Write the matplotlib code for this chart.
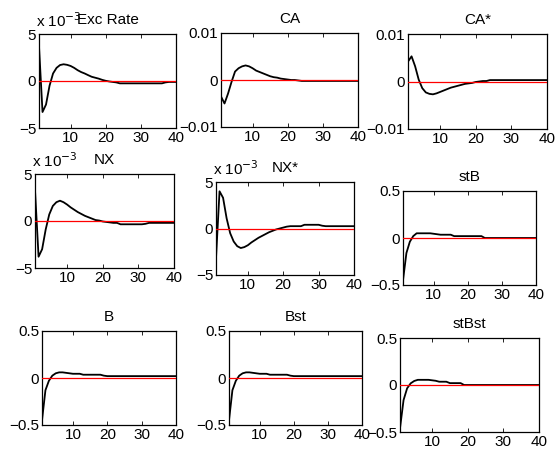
import matplotlib
matplotlib.use("Agg")
import matplotlib.pyplot as plt
from matplotlib.ticker import FuncFormatter
import numpy as np

plt.rcParams["font.family"] = ["Liberation Sans", "DejaVu Sans"]
plt.rcParams["font.size"] = 11

periods = np.arange(1, 41)

titles = ["Exc Rate", "CA", "CA*", "NX", "NX*", "stB", "B", "Bst", "stBst"]

exc_rate = [3.7e-3, -3.3e-3, -2.5e-3, -0.5e-3, 0.8e-3, 1.4e-3, 1.7e-3, 1.78e-3, 1.72e-3, 1.6e-3,
            1.4e-3, 1.15e-3, 0.95e-3, 0.8e-3, 0.62e-3, 0.45e-3, 0.35e-3, 0.25e-3, 0.12e-3, 0.02e-3,
            -0.05e-3, -0.1e-3, -0.15e-3, -0.25e-3, -0.25e-3, -0.25e-3, -0.25e-3, -0.25e-3, -0.25e-3, -0.25e-3,
            -0.25e-3, -0.25e-3, -0.25e-3, -0.25e-3, -0.25e-3, -0.25e-3, -0.15e-3, -0.1e-3, -0.1e-3, -0.1e-3]

ca = [-0.0035, -0.0050, -0.0029, -0.0004, 0.0018, 0.0025, 0.0029, 0.0031, 0.0029, 0.0025,
      0.0020, 0.0017, 0.0014, 0.0011, 0.0008, 0.0006, 0.0005, 0.0003, 0.0002, 0.0001,
      0.0, 0.0, -0.0001, -0.0002, -0.0002, -0.0002, -0.0002, -0.0002, -0.0002, -0.0002,
      -0.0002, -0.0002, -0.0002, -0.0002, -0.0002, -0.0002, -0.0002, -0.0002, -0.0002, -0.0002]

ca_star = [0.0042, 0.0053, 0.0032, 0.0004, -0.0014, -0.0023, -0.0026, -0.0027, -0.0025, -0.0022,
           -0.0019, -0.0016, -0.0013, -0.0011, -0.0009, -0.0007, -0.0005, -0.0004, -0.0003, -0.0001,
           0.0, 0.0001, 0.0001, 0.0003, 0.0003, 0.0003, 0.0003, 0.0003, 0.0003, 0.0003,
           0.0003, 0.0003, 0.0003, 0.0003, 0.0003, 0.0003, 0.0003, 0.0003, 0.0003, 0.0003]

nx = [3.3e-3, -3.8e-3, -3.0e-3, -0.9e-3, 0.7e-3, 1.6e-3, 2.0e-3, 2.16e-3, 2.0e-3, 1.75e-3,
      1.45e-3, 1.2e-3, 0.95e-3, 0.75e-3, 0.55e-3, 0.4e-3, 0.25e-3, 0.1e-3, 0.05e-3, -0.05e-3,
      -0.1e-3, -0.15e-3, -0.2e-3, -0.2e-3, -0.35e-3, -0.35e-3, -0.35e-3, -0.35e-3, -0.35e-3, -0.35e-3,
      -0.35e-3, -0.3e-3, -0.2e-3, -0.2e-3, -0.2e-3, -0.2e-3, -0.2e-3, -0.2e-3, -0.2e-3, -0.2e-3]

nx_star = [-3.2e-3, 4.0e-3, 3.3e-3, 1.1e-3, -0.5e-3, -1.4e-3, -1.9e-3, -2.1e-3, -2.0e-3, -1.8e-3,
           -1.5e-3, -1.25e-3, -1.0e-3, -0.8e-3, -0.6e-3, -0.4e-3, -0.25e-3, -0.1e-3, 0.0, 0.1e-3,
           0.2e-3, 0.25e-3, 0.25e-3, 0.25e-3, 0.25e-3, 0.4e-3, 0.4e-3, 0.4e-3, 0.4e-3, 0.4e-3,
           0.3e-3, 0.25e-3, 0.25e-3, 0.25e-3, 0.25e-3, 0.25e-3, 0.25e-3, 0.25e-3, 0.25e-3, 0.25e-3]

st_b = [-0.45, -0.16, -0.04, 0.02, 0.05, 0.05, 0.05, 0.05, 0.05, 0.045,
        0.04, 0.035, 0.035, 0.035, 0.035, 0.02, 0.02, 0.02, 0.02, 0.02,
        0.02, 0.02, 0.02, 0.02, 0.0, 0.0, 0.0, 0.0, 0.0, 0.0,
        0.0, 0.0, 0.0, 0.0, 0.0, 0.0, 0.0, 0.0, 0.0, 0.0]

b = [-0.45, -0.13, -0.03, 0.025, 0.05, 0.06, 0.06, 0.055, 0.05, 0.045,
     0.045, 0.045, 0.035, 0.035, 0.035, 0.035, 0.035, 0.035, 0.025, 0.02,
     0.02, 0.02, 0.02, 0.02, 0.02, 0.02, 0.02, 0.02, 0.02, 0.02,
     0.02, 0.02, 0.02, 0.02, 0.02, 0.02, 0.02, 0.02, 0.02, 0.02]

bst = [-0.45, -0.13, -0.03, 0.025, 0.05, 0.06, 0.06, 0.055, 0.05, 0.045,
       0.045, 0.045, 0.035, 0.035, 0.035, 0.035, 0.035, 0.035, 0.025, 0.02,
       0.02, 0.02, 0.02, 0.02, 0.02, 0.02, 0.02, 0.02, 0.02, 0.02,
       0.02, 0.02, 0.02, 0.02, 0.02, 0.02, 0.02, 0.02, 0.02, 0.02]

st_bst = [-0.46, -0.16, -0.035, 0.018, 0.043, 0.055, 0.055, 0.055, 0.055, 0.05,
          0.045, 0.035, 0.035, 0.035, 0.02, 0.02, 0.02, 0.02, 0.0, 0.0,
          0.0, 0.0, 0.0, 0.0, 0.0, 0.0, 0.0, 0.0, 0.0, 0.0,
          0.0, 0.0, 0.0, 0.0, 0.0, 0.0, 0.0, 0.0, 0.0, 0.0]

series = [exc_rate, ca, ca_star, nx, nx_star, st_b, b, bst, st_bst]

# y ranges and whether the axis shows an "x 10^-3" multiplier
y_limits = [0.005, 0.01, 0.01, 0.005, 0.005, 0.5, 0.5, 0.5, 0.5]
scaled = [True, False, False, True, True, False, False, False, False]

# axes boxes in pixels: left, top, right, bottom
W, H = 558, 459
boxes = [(39, 34, 176, 128), (221, 33, 358, 127), (408, 34, 547, 129),
         (35, 174, 174, 268), (216, 182, 354, 275), (403, 191, 536, 285),
         (42, 331, 176, 425), (229, 331, 362, 425), (400, 338, 539, 432)]

fig = plt.figure(figsize=(W / 100, H / 100), dpi=100)


def minus(s):
    return s.replace("-", "\u2212")


for title, vals, lim, sc, (l, t, r, btm) in zip(titles, series, y_limits, scaled, boxes):
    ax = fig.add_axes([l / W, 1 - btm / H, (r - l) / W, (btm - t) / H])
    ax.plot(periods, vals, color="black", lw=1.3, zorder=2)
    ax.axhline(0, color="#ff0000", lw=0.9, zorder=3)
    ax.set_xlim(1, 40)
    ax.set_ylim(-lim, lim)
    ax.set_xticks([10, 20, 30, 40])
    ax.set_yticks([-lim, 0, lim])
    if sc:
        ax.yaxis.set_major_formatter(FuncFormatter(lambda v, _: minus(f"{v * 1e3:g}")))
        ax.text(-0.02, 1.04, r"x 10$^{-3}$", transform=ax.transAxes, ha="left", va="bottom",
                fontsize=11)
    else:
        ax.yaxis.set_major_formatter(FuncFormatter(lambda v, _: minus(f"{v:g}")))
    ax.tick_params(direction="in", top=True, right=True, length=3, width=0.6,
                   labelsize=11, pad=2)
    for s in ax.spines.values():
        s.set_linewidth(0.9)
    ax.set_title(title, fontsize=11, pad=7)

fig.savefig("out.png", dpi=100)
